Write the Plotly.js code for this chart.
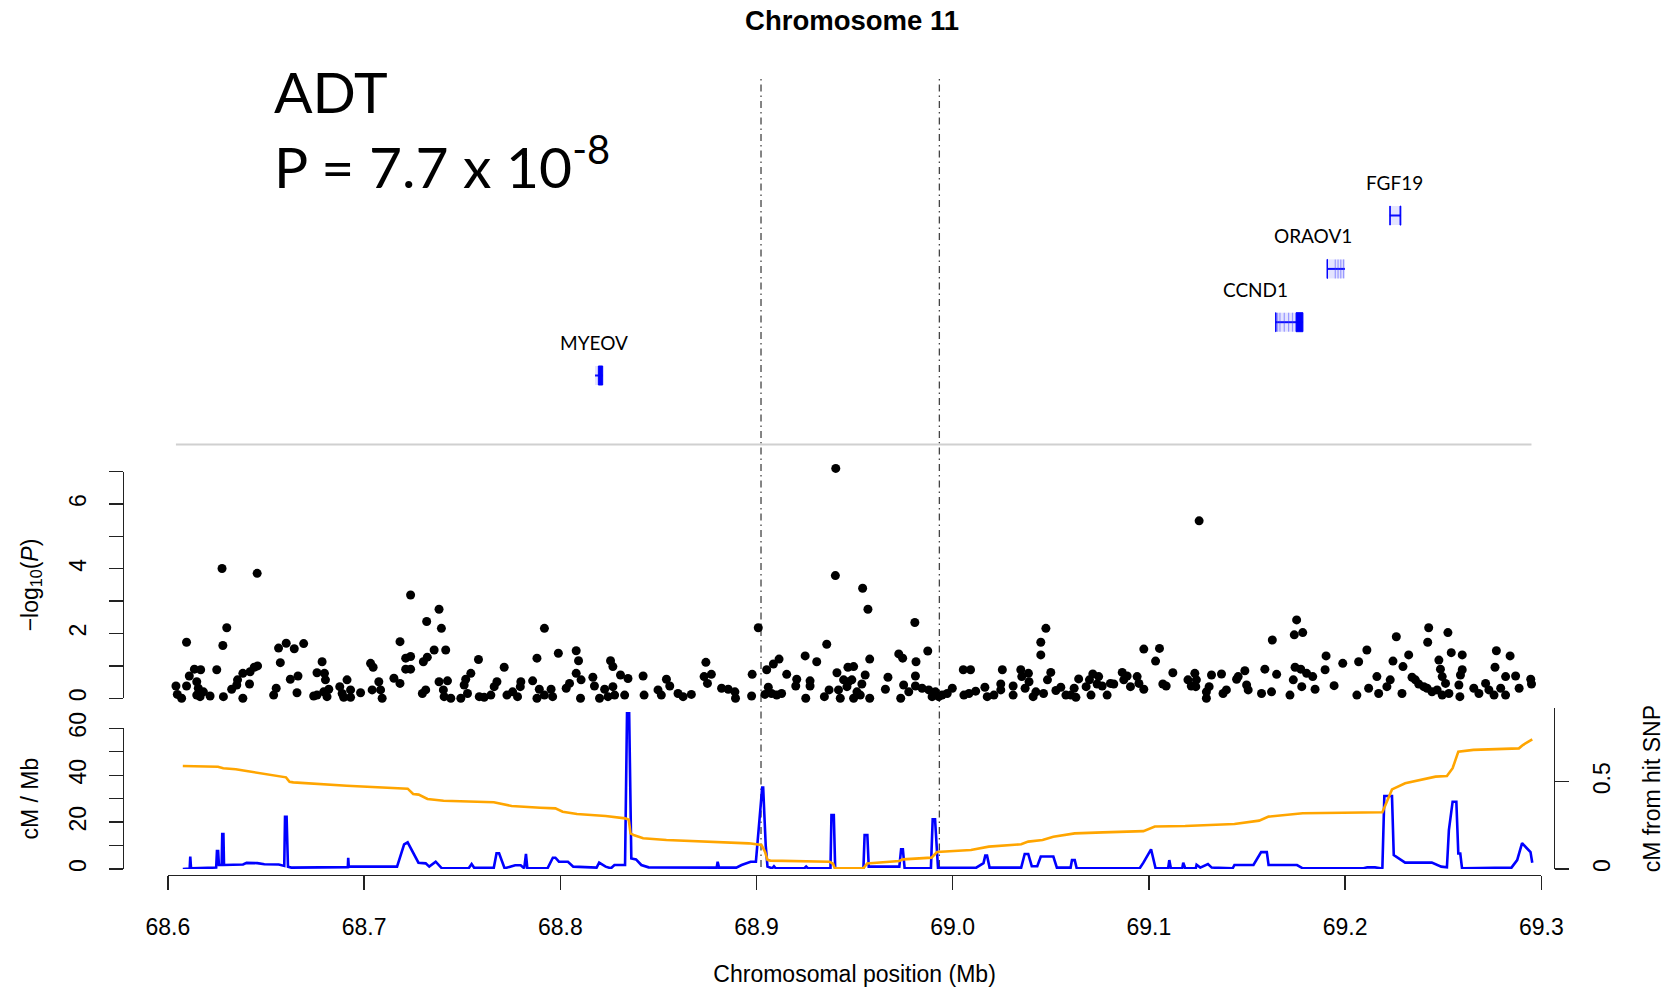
<!DOCTYPE html>
<html>
<head>
<meta charset="utf-8">
<script src="https://cdn.plot.ly/plotly-3.0.1.min.js"></script>
<style>
  html, body { margin: 0; padding: 0; background: #fff; }
  #plot { width: 1673px; height: 988px; }
</style>
</head>
<body>
<div id="plot"></div>
<script>
// ---------------------------------------------------------------
// Regional association plot, chromosome 11 (68.6 - 69.3 Mb)
// ---------------------------------------------------------------

// SNP positions (Mb) and association strength (-log10 P)
const snpPos = [
  68.6041, 68.6048, 68.6070, 68.6095, 68.6095, 68.6109, 68.6135, 68.6147, 68.6147, 68.6155,
  68.6164, 68.6167, 68.6181, 68.6215, 68.6249, 68.6276, 68.6280, 68.6283, 68.6300, 68.6325,
  68.6351, 68.6355, 68.6382, 68.6382, 68.6416, 68.6419, 68.6440, 68.6455, 68.6457, 68.6539,
  68.6552, 68.6564, 68.6573, 68.6603, 68.6624, 68.6644, 68.6658, 68.6663, 68.6692, 68.6743,
  68.6760, 68.6760, 68.6786, 68.6794, 68.6798, 68.6803, 68.6811, 68.6820, 68.6876, 68.6888,
  68.6896, 68.6913, 68.6931, 68.6931, 68.6982, 68.7033, 68.7041, 68.7046, 68.7075, 68.7084,
  68.7092, 68.7152, 68.7183, 68.7183, 68.7212, 68.7212, 68.7237, 68.7237, 68.7237, 68.7297,
  68.7302, 68.7314, 68.7319, 68.7322, 68.7357, 68.7382, 68.7382, 68.7394, 68.7404, 68.7408,
  68.7416, 68.7425, 68.7442, 68.7493, 68.7510, 68.7518, 68.7527, 68.7544, 68.7583, 68.7587,
  68.7612, 68.7646, 68.7663, 68.7677, 68.7714, 68.7728, 68.7757, 68.7782, 68.7796, 68.7799,
  68.7859, 68.7881, 68.7881, 68.7893, 68.7919, 68.7919, 68.7953, 68.7961, 68.7990, 68.8030,
  68.8047, 68.8081, 68.8081, 68.8093, 68.8103, 68.8106, 68.8166, 68.8174, 68.8200, 68.8226,
  68.8243, 68.8256, 68.8268, 68.8268, 68.8277, 68.8307, 68.8328, 68.8345, 68.8422, 68.8427,
  68.8498, 68.8515, 68.8541, 68.8558,
  68.8600, 68.8626, 68.8668, 68.8733, 68.8742, 68.8750, 68.8770, 68.8822, 68.8856, 68.8890,
  68.8893, 68.8975, 68.8978, 68.9009, 68.9043, 68.9052, 68.9060, 68.9077, 68.9086, 68.9103,
  68.9115, 68.9128, 68.9154, 68.9200, 68.9205, 68.9248, 68.9251, 68.9273, 68.9273, 68.9307,
  68.9346, 68.9358, 68.9370, 68.9402, 68.9404, 68.9410, 68.9418, 68.9427, 68.9444, 68.9461,
  68.9466, 68.9469, 68.9486, 68.9495, 68.9495, 68.9512, 68.9529, 68.9537, 68.9541, 68.9554,
  68.9568, 68.9577, 68.9577, 68.9657, 68.9670, 68.9725, 68.9735, 68.9745, 68.9750, 68.9776,
  68.9807, 68.9810, 68.9810, 68.9813, 68.9844, 68.9873, 68.9878, 68.9895, 68.9912, 68.9929,
  68.9946, 68.9972, 68.9998, 69.0054, 69.0057, 69.0083, 69.0091, 69.0117, 69.0164, 69.0176,
  69.0210, 69.0245, 69.0245, 69.0253, 69.0308, 69.0308, 69.0347, 69.0352, 69.0369, 69.0386,
  69.0389, 69.0410, 69.0424, 69.0449, 69.0449, 69.0463, 69.0475, 69.0483, 69.0500, 69.0526,
  69.0551, 69.0577, 69.0602, 69.0619, 69.0628, 69.0642, 69.0680, 69.0697, 69.0705, 69.0714,
  69.0736, 69.0744, 69.0762, 69.0787, 69.0804, 69.0821, 69.0864, 69.0872, 69.0889, 69.0906,
  69.0940, 69.0949, 69.0974, 69.0974, 69.1034, 69.1054, 69.1071, 69.1088, 69.1122, 69.1199,
  69.1216,
  69.1234, 69.1239, 69.1242, 69.1256, 69.1293, 69.1293, 69.1307, 69.1319, 69.1370, 69.1378,
  69.1395, 69.1447, 69.1455, 69.1489, 69.1498, 69.1506, 69.1574, 69.1591, 69.1625, 69.1629,
  69.1651, 69.1719, 69.1736, 69.1741, 69.1745, 69.1753, 69.1774, 69.1779, 69.1784, 69.1804,
  69.1835, 69.1847, 69.1898, 69.1903, 69.1944, 69.1988, 69.2060, 69.2069, 69.2111, 69.2120,
  69.2162, 69.2171, 69.2213, 69.2230, 69.2244, 69.2261, 69.2290, 69.2295, 69.2324, 69.2341,
  69.2358, 69.2375, 69.2401, 69.2418, 69.2421, 69.2426, 69.2443, 69.2469, 69.2478, 69.2486,
  69.2495, 69.2495, 69.2512, 69.2524, 69.2529, 69.2541, 69.2580, 69.2585, 69.2588, 69.2597,
  69.2597, 69.2656, 69.2682, 69.2716, 69.2733, 69.2759, 69.2764, 69.2771, 69.2793, 69.2818,
  69.2818, 69.2841, 69.2869, 69.2887, 69.2946, 69.2950
];
const snpLogP = [
  0.38, 0.12, 0.00, 1.73, 0.38, 0.69, 0.90, 0.51, 0.10, 0.31,
  0.05, 0.88, 0.20, 0.07, 0.88, 4.01, 1.63, 0.05, 2.18, 0.28,
  0.41, 0.57, 0.77, 0.00, 0.44, 0.82, 0.96, 3.86, 1.00, 0.10,
  0.31, 1.55, 1.10, 1.70, 0.59, 1.53, 0.17, 0.69, 1.69, 0.07,
  0.79, 0.10, 1.13, 0.20, 0.77, 0.57, 0.05, 0.28, 0.36, 0.15,
  0.03, 0.57, 0.26, 0.03, 0.17, 1.08, 0.26, 0.96, 0.51, 0.26,
  0.00, 0.62, 1.75, 0.46, 1.24, 0.90, 3.19, 1.29, 0.90, 0.15,
  1.13, 0.26, 2.37, 1.27, 1.49, 2.75, 0.51, 2.16, 0.26, 0.05,
  1.49, 0.54, 0.00, 0.00, 0.41, 0.59, 0.15, 0.77, 1.20, 0.05,
  0.03, 0.10, 0.36, 0.51, 0.96, 0.10, 0.20, 0.05, 0.36, 0.51,
  0.54, 1.24, 0.00, 0.28, 2.16, 0.10, 0.28, 0.05, 1.39, 0.31,
  0.46, 1.47, 0.77, 1.16, 0.00, 0.57, 0.65, 0.38, 0.00, 0.28,
  0.05, 1.16, 0.98, 0.36, 0.10, 0.72, 0.10, 0.61, 0.69, 0.10,
  0.26, 0.10, 0.59, 0.38,
  0.15, 0.05, 0.12, 0.67, 1.11, 0.46, 0.74, 0.31, 0.28, 0.20,
  0.00, 0.07, 0.74, 2.18, 0.12, 0.88, 0.34, 0.15, 1.06, 0.10,
  1.21, 0.15, 0.74, 0.38, 0.59, 1.31, 0.00, 0.54, 0.38, 1.13,
  0.05, 1.67, 0.26, 3.79, 7.10, 0.79, 0.26, 0.00, 0.57, 0.36,
  0.96, 0.51, 0.57, 0.98, 0.00, 0.20, 0.10, 0.44, 3.40, 0.72,
  2.75, 1.21, 0.00, 0.28, 0.65, 1.37, 0.00, 1.24, 0.41, 0.20,
  2.34, 0.69, 0.38, 1.13, 0.31, 1.46, 0.26, 0.05, 0.20, 0.05,
  0.10, 0.15, 0.31, 0.88, 0.10, 0.15, 0.88, 0.22, 0.34, 0.05,
  0.10, 0.44, 0.26, 0.88, 0.38, 0.10, 0.88, 0.67, 0.31, 0.77,
  0.51, 0.05, 0.20, 1.73, 1.34, 0.15, 2.16, 0.57, 0.80, 0.24,
  0.34, 0.10, 0.10, 0.31, 0.03, 0.60, 0.36, 0.57, 0.10, 0.75,
  0.44, 0.67, 0.38, 0.10, 0.46, 0.44, 0.80, 0.57, 0.69, 0.36,
  0.67, 0.46, 1.52, 0.28, 1.15, 1.54, 0.44, 0.38, 0.79, 0.57,
  0.38,
  0.77, 0.36, 0.57, 5.48, 0.20, 0.00, 0.36, 0.72, 0.75, 0.15,
  0.26, 0.59, 0.67, 0.85, 0.41, 0.26, 0.15, 0.90, 0.20, 1.80,
  0.74, 0.10, 0.57, 1.96, 0.96, 2.42, 0.90, 0.36, 2.03, 0.77,
  0.67, 0.28, 0.88, 1.31, 0.39, 1.08, 0.10, 1.13, 1.49, 0.31,
  0.67, 0.15, 0.36, 0.57, 1.15, 1.90, 0.15, 0.98, 1.34, 0.65,
  0.57, 0.44, 0.36, 0.31, 1.73, 2.18, 0.20, 0.26, 1.18, 0.90,
  0.67, 0.10, 0.46, 2.03, 0.15, 1.41, 0.41, 0.05, 0.72, 1.34,
  0.88, 0.31, 0.15, 0.46, 0.26, 0.10, 0.96, 1.47, 0.31, 0.67,
  0.10, 1.31, 0.69, 0.31, 0.59, 0.44
];

// Recombination rate (cM/Mb)
const ratePos = [
  68.6076, 68.6111, 68.6114, 68.6118, 68.6246, 68.6250, 68.6256, 68.6260, 68.6274, 68.6277,
  68.6283, 68.6286, 68.6383, 68.6401, 68.6456, 68.6492, 68.6565, 68.6584, 68.6593, 68.6597,
  68.6605, 68.6612, 68.6629, 68.6917, 68.6919, 68.6922, 68.6931, 68.7168, 68.7204, 68.7222,
  68.7241, 68.7277, 68.7314, 68.7332, 68.7365, 68.7378, 68.7396, 68.7533, 68.7548, 68.7561,
  68.7661, 68.7675, 68.7688, 68.7716, 68.7770, 68.7798, 68.7816, 68.7825, 68.7832, 68.7935,
  68.7962, 68.7975, 68.7993, 68.8039, 68.8066, 68.8185, 68.8198, 68.8231, 68.8258, 68.8276,
  68.8330, 68.8340, 68.8351, 68.8362, 68.8386, 68.8413, 68.8450, 68.8797, 68.8802, 68.8809,
  68.8897, 68.8924, 68.8970, 68.8997, 68.9016, 68.9029, 68.9034, 68.9047, 68.9056, 68.9080,
  68.9089, 68.9098, 68.9244, 68.9253, 68.9262, 68.9377, 68.9382, 68.9394, 68.9401, 68.9545,
  68.9551, 68.9565, 68.9572, 68.9728, 68.9737, 68.9746, 68.9755, 68.9889, 68.9898, 68.9910,
  68.9925, 69.0120, 69.0157, 69.0166, 69.0175, 69.0188, 69.0349, 69.0367, 69.0385, 69.0403,
  69.0431, 69.0449, 69.0513, 69.0531, 69.0601, 69.0608, 69.0622, 69.0632, 69.0953, 69.0972,
  69.1011, 69.1034, 69.1098, 69.1104, 69.1112, 69.1170, 69.1175, 69.1185, 69.1239, 69.1243,
  69.1262, 69.1301, 69.1320, 69.1427, 69.1436, 69.1533, 69.1572, 69.1601, 69.1610, 69.1755,
  69.1784, 69.2094, 69.2113, 69.2152, 69.2181, 69.2190, 69.2200, 69.2239, 69.2248, 69.2306,
  69.2442, 69.2490, 69.2519, 69.2529, 69.2548, 69.2567, 69.2577, 69.2587, 69.2596, 69.2848,
  69.2877, 69.2902, 69.2945, 69.2954
];
const rateVal = [
  0.0, 0.2, 5.3, 0.3, 0.6, 7.7, 7.7, 1.7, 1.7, 14.9,
  14.9, 1.7, 1.9, 2.6, 2.5, 2.0, 1.9, 1.3, 1.3, 22.3,
  22.3, 1.0, 0.6, 0.8, 4.8, 0.9, 1.0, 1.0, 10.5, 11.4,
  8.3, 2.7, 2.4, 1.0, 3.1, 2.0, 0.3, 0.3, 2.1, 0.5,
  0.5, 6.7, 6.7, 0.3, 1.6, 1.6, 0.3, 6.4, 0.3, 0.3,
  4.8, 4.8, 3.1, 3.1, 1.0, 0.6, 2.7, 1.0, 0.3, 1.7,
  1.7, 66.4, 66.4, 4.5, 4.1, 1.7, 0.7, 0.6, 3.1, 0.6,
  0.6, 1.7, 3.1, 3.1, 20.0, 34.7, 34.7, 10.0, 1.0, 0.3,
  1.2, 0.3, 0.3, 1.0, 0.3, 0.3, 23.0, 23.0, 0.3, 0.3,
  14.5, 14.5, 1.0, 1.0, 8.4, 8.4, 0.3, 0.3, 21.2, 21.2,
  0.5, 0.6, 2.5, 5.7, 5.7, 0.6, 0.6, 6.4, 6.4, 1.2,
  1.2, 5.3, 5.3, 0.6, 0.6, 3.8, 3.8, 0.3, 0.3, 2.7,
  8.4, 0.3, 0.3, 3.8, 0.3, 0.3, 2.7, 0.3, 0.3, 1.8,
  0.6, 2.1, 0.6, 0.3, 1.7, 1.7, 7.2, 7.2, 1.7, 1.7,
  0.3, 0.3, 0.7, 0.7, 0.3, 0.5, 31.1, 31.1, 5.9, 2.7,
  2.7, 1.0, 0.7, 16.6, 28.7, 28.7, 6.6, 6.6, 0.3, 0.6,
  3.8, 11.0, 7.2, 2.7
];

// Genetic distance from the lead SNP (cM)
const cmPos = [
  68.6076, 68.6255, 68.6282, 68.6346, 68.6401, 68.6492, 68.6584, 68.6602, 68.6620, 68.6639,
  68.6912, 68.7150, 68.7222, 68.7250, 68.7278, 68.7323, 68.7405, 68.7661, 68.7716, 68.7752,
  68.7898, 68.7975, 68.8012, 68.8085, 68.8231, 68.8331, 68.8349, 68.8358, 68.8377, 68.8422,
  68.8541, 68.8815, 68.8961, 68.9025, 68.9043, 68.9056, 68.9071, 68.9372, 68.9390, 68.9399,
  68.9545, 68.9564, 68.9728, 68.9746, 68.9892, 68.9920, 69.0093, 69.0184, 69.0349, 69.0385,
  69.0458, 69.0513, 69.0622, 69.0765, 69.0972, 69.1030, 69.1185, 69.1436, 69.1562, 69.1610,
  69.1784, 69.2190, 69.2210, 69.2239, 69.2306, 69.2461, 69.2519, 69.2548, 69.2577, 69.2654,
  69.2886, 69.2906, 69.2954
];
const cmVal = [
  0.590, 0.586, 0.577, 0.571, 0.561, 0.544, 0.531, 0.525, 0.500, 0.496,
  0.477, 0.466, 0.460, 0.430, 0.426, 0.401, 0.391, 0.382, 0.367, 0.361,
  0.351, 0.347, 0.328, 0.315, 0.304, 0.290, 0.282, 0.204, 0.193, 0.176,
  0.166, 0.155, 0.147, 0.138, 0.100, 0.052, 0.048, 0.042, 0.030, 0.004,
  0.004, 0.032, 0.046, 0.055, 0.065, 0.097, 0.109, 0.128, 0.142, 0.157,
  0.166, 0.185, 0.204, 0.210, 0.217, 0.243, 0.246, 0.258, 0.277, 0.300,
  0.319, 0.325, 0.380, 0.456, 0.491, 0.529, 0.533, 0.577, 0.672, 0.682,
  0.691, 0.710, 0.743
];

// Genes in the region (Mb), drawn one per row
const geneNames = ['MYEOV', 'CCND1', 'ORAOV1', 'FGF19'];
const geneStart = [68.8177, 69.1646, 69.1908, 69.2228];
const geneEnd = [68.8216, 69.1785, 69.1999, 69.2283];
const geneRow = [1, 2, 3, 4];
const geneLabelPos = [68.8172, 69.1545, 69.1838, 69.2254];
const geneExonStart = [[68.8194], [69.1646, 69.1750], [69.1908], [69.2228, 69.2280]];
const geneExonEnd = [[68.8216], [69.1648, 69.1785], [69.1910], [69.2230, 69.2284]];
// faint alternative-transcript exon marks
const geneMinorExons = [[], [69.1656, 69.1668, 69.1690, 69.1712, 69.1732], [69.1950, 69.1964, 69.1978, 69.1992], []];

// Boundaries of the associated interval (Mb)
const intervalBounds = [68.9023, 68.9932];

// Axis ticks
const xTickVals = [68.6, 68.7, 68.8, 68.9, 69.0, 69.1, 69.2, 69.3];
const xTickText = ['68.6', '68.7', '68.8', '68.9', '69.0', '69.1', '69.2', '69.3'];
const pTickVals = [0, 2, 4, 6];
const pMinorTickVals = [1, 3, 5, 7];
const rateTickVals = [0, 20, 40, 60];
const rateMinorTickVals = [10, 30, 50];
const cmTickVals = [0, 0.5];
const cmTickText = ['0', '0.5'];

// Annotation texts
const traitName = 'ADT';
const leadPText = 'P = 7.7 x 10<sup>-8</sup>';

// ---------------------------------------------------------------
// Page geometry (pixels) -> paper fractions
// ---------------------------------------------------------------
const W = 1673, H = 988;
const fx = p => p / W;
const fy = p => 1 - p / H;

const X0_PX = 167.9, X1_PX = 1541.3, XAXIS_PX = 874.5;
const LEFT_AXIS_PX = 122.5, RIGHT_AXIS_PX = 1554;
const P_ZERO_PX = 698.3, P_UNIT_PX = 32.38, P_MAX = 7, P_DATA_MIN = -0.6, P_DATA_MAX = 7.8;
const R_ZERO_PX = 869, R_UNIT_PX = 2.345, R_AXIS_MAX = 60, R_DATA_TOP_PX = 700;
const CM_UNIT_PX = 174.6, CM_TOP_PX = 708.3;
const GENE_ROW1_PX = 375.5, GENE_STEP_PX = 53.3, GENE_TOP_PX = 150, GENE_BOTTOM_PX = 430;
const GLYPH_HALF = 9.5 / GENE_STEP_PX;

const INK = '#222';
const tickFont = { family: 'Liberation Sans, Arial, sans-serif', size: 23, color: '#000' };
const axisBase = {
  showline: true, linecolor: INK, linewidth: 1.4,
  ticks: 'outside', ticklen: 14, tickwidth: 1.4, tickcolor: INK,
  showgrid: false, zeroline: false, fixedrange: true,
  tickfont: tickFont
};
const minorTicks = vals => ({ tickmode: 'array', tickvals: vals, ticks: 'outside', ticklen: 14, tickwidth: 1.4, tickcolor: INK, showgrid: false });
const hiddenAxis = { visible: false, showgrid: false, zeroline: false, fixedrange: true };

// ---------------------------------------------------------------
// Traces
// ---------------------------------------------------------------
const traces = [];

traces.push({
  type: 'scatter', mode: 'markers', x: snpPos, y: snpLogP,
  xaxis: 'x', yaxis: 'y', cliponaxis: false, hoverinfo: 'skip',
  marker: { color: '#000', size: 9, line: { width: 0 } }
});

traces.push({
  type: 'scatter', mode: 'lines', x: ratePos, y: rateVal,
  xaxis: 'x', yaxis: 'y2', hoverinfo: 'skip',
  line: { color: '#0000ff', width: 2.6 }
});

traces.push({
  type: 'scatter', mode: 'lines', x: cmPos, y: cmVal,
  xaxis: 'x', yaxis: 'y3', hoverinfo: 'skip',
  line: { color: '#ffa500', width: 2.6 }
});

// gene body lines
const gx = [], gy = [];
geneNames.forEach((g, i) => {
  gx.push(geneStart[i], geneEnd[i], null);
  gy.push(geneRow[i], geneRow[i], null);
});
traces.push({
  type: 'scatter', mode: 'lines', x: gx, y: gy,
  xaxis: 'x', yaxis: 'y4', hoverinfo: 'skip',
  line: { color: '#0000ff', width: 2 }
});

// carrier traces so the scale axes (cM/Mb and -log10 P) are drawn
traces.push({ type: 'scatter', mode: 'markers', x: [null], y: [null], xaxis: 'x', yaxis: 'y5', hoverinfo: 'skip' });
traces.push({ type: 'scatter', mode: 'markers', x: [null], y: [null], xaxis: 'x', yaxis: 'y6', hoverinfo: 'skip' });

// ---------------------------------------------------------------
// Shapes
// ---------------------------------------------------------------
const shapes = [];

intervalBounds.forEach(v => shapes.push({
  type: 'line', xref: 'x', yref: 'paper', x0: v, x1: v, y0: fy(867), y1: fy(78),
  layer: 'below', line: { color: '#444', width: 1.3, dash: '7px,4px,1.5px,4px' }
}));

shapes.push({
  type: 'line', xref: 'x', yref: 'paper',
  x0: Math.min(...snpPos), x1: Math.max(...snpPos), y0: fy(444.5), y1: fy(444.5),
  layer: 'below', line: { color: '#d0d0d0', width: 2.2 }
});

geneNames.forEach((g, i) => {
  shapes.push({
    type: 'rect', xref: 'x', yref: 'y4',
    x0: geneStart[i], x1: geneEnd[i], y0: geneRow[i] - GLYPH_HALF, y1: geneRow[i] + GLYPH_HALF,
    fillcolor: 'rgba(90,90,255,0.16)', line: { width: 0 }
  });
  geneMinorExons[i].forEach(e => shapes.push({
    type: 'line', xref: 'x', yref: 'y4',
    x0: e, x1: e, y0: geneRow[i] - GLYPH_HALF, y1: geneRow[i] + GLYPH_HALF,
    line: { color: 'rgba(60,60,255,0.45)', width: 1.2 }
  }));
  geneExonStart[i].forEach((s, j) => shapes.push({
    type: 'rect', xref: 'x', yref: 'y4',
    x0: s, x1: geneExonEnd[i][j], y0: geneRow[i] - GLYPH_HALF, y1: geneRow[i] + GLYPH_HALF,
    fillcolor: '#0000ff', line: { color: '#0000ff', width: 1 }
  }));
});

// ---------------------------------------------------------------
// Annotations
// ---------------------------------------------------------------
const annotations = [];
const labelFont = { family: 'Lato, "Open Sans", sans-serif', color: '#000' };

annotations.push({
  xref: 'paper', yref: 'paper', x: fx(272), y: fy(91), xanchor: 'left', yanchor: 'middle',
  text: traitName, showarrow: false, font: Object.assign({ size: 57 }, labelFont)
});
annotations.push({
  xref: 'paper', yref: 'paper', x: fx(272), y: fy(163), xanchor: 'left', yanchor: 'middle',
  text: leadPText, showarrow: false, font: Object.assign({ size: 57 }, labelFont)
});

geneNames.forEach((g, i) => annotations.push({
  xref: 'x', yref: 'y4', x: geneLabelPos[i], y: geneRow[i], yshift: 33,
  xanchor: 'center', yanchor: 'middle', text: g, showarrow: false,
  font: Object.assign({ size: 19 }, labelFont)
}));

// ---------------------------------------------------------------
// Layout
// ---------------------------------------------------------------
const layout = {
  width: W, height: H,
  margin: { l: 0, r: 0, t: 0, b: 0, pad: 0 },
  paper_bgcolor: '#fff', plot_bgcolor: 'rgba(0,0,0,0)',
  showlegend: false,
  font: tickFont,
  title: {
    text: '<b>Chromosome 11</b>', xref: 'paper', yref: 'paper',
    x: fx(852), xanchor: 'center', y: fy(20), yanchor: 'middle',
    font: { family: 'Liberation Sans, Arial, sans-serif', size: 27.5, color: '#000' }
  },
  xaxis: Object.assign({}, axisBase, {
    domain: [fx(X0_PX), fx(X1_PX)], range: [68.6, 69.3],
    anchor: 'free', position: fy(XAXIS_PX),
    tickmode: 'array', tickvals: xTickVals, ticktext: xTickText,
    ticklabelstandoff: 17,
    title: { text: 'Chromosomal position (Mb)', standoff: 27, font: tickFont }
  }),
  // data scale for the association points (wider than the drawn axis)
  yaxis: Object.assign({}, hiddenAxis, {
    domain: [fy(P_ZERO_PX - P_DATA_MIN * P_UNIT_PX), fy(P_ZERO_PX - P_DATA_MAX * P_UNIT_PX)],
    range: [P_DATA_MIN, P_DATA_MAX], anchor: 'free', position: fx(LEFT_AXIS_PX)
  }),
  yaxis2: Object.assign({}, hiddenAxis, {
    domain: [fy(R_ZERO_PX), fy(R_DATA_TOP_PX)], range: [0, (R_ZERO_PX - R_DATA_TOP_PX) / R_UNIT_PX],
    anchor: 'free', position: fx(LEFT_AXIS_PX)
  }),
  yaxis3: Object.assign({}, axisBase, {
    domain: [fy(R_ZERO_PX), fy(CM_TOP_PX)], range: [0, (R_ZERO_PX - CM_TOP_PX) / CM_UNIT_PX],
    anchor: 'free', position: fx(RIGHT_AXIS_PX), side: 'right',
    tickmode: 'array', tickvals: cmTickVals, ticktext: cmTickText,
    tickangle: -90, ticklabelstandoff: 13,
    title: { text: 'cM from hit SNP', standoff: 30, font: tickFont }
  }),
  yaxis4: Object.assign({}, hiddenAxis, {
    domain: [fy(GENE_BOTTOM_PX), fy(GENE_TOP_PX)],
    range: [1 - (GENE_BOTTOM_PX - GENE_ROW1_PX) / GENE_STEP_PX, 1 + (GENE_ROW1_PX - GENE_TOP_PX) / GENE_STEP_PX],
    anchor: 'free', position: fx(LEFT_AXIS_PX)
  }),
  yaxis5: Object.assign({}, axisBase, {
    domain: [fy(R_ZERO_PX), fy(R_ZERO_PX - R_AXIS_MAX * R_UNIT_PX)], range: [0, R_AXIS_MAX],
    anchor: 'free', position: fx(LEFT_AXIS_PX), side: 'left',
    tickmode: 'array', tickvals: rateTickVals, ticktext: rateTickVals.map(String),
    minor: minorTicks(rateMinorTickVals), tickangle: -90, ticklabelstandoff: 13,
    title: { text: 'cM / Mb', standoff: 19, font: tickFont }
  }),
  yaxis6: Object.assign({}, axisBase, {
    domain: [fy(P_ZERO_PX), fy(P_ZERO_PX - P_MAX * P_UNIT_PX)], range: [0, P_MAX],
    anchor: 'free', position: fx(LEFT_AXIS_PX), side: 'left',
    tickmode: 'array', tickvals: pTickVals, ticktext: pTickVals.map(String),
    minor: minorTicks(pMinorTickVals), tickangle: -90, ticklabelstandoff: 13,
    title: { text: '\u2212log<sub>10</sub>(<i>P</i>)', standoff: 19, font: tickFont }
  }),
  shapes: shapes,
  annotations: annotations
};

Plotly.newPlot('plot', traces, layout, { displayModeBar: false, staticPlot: true });
</script>
</body>
</html>
